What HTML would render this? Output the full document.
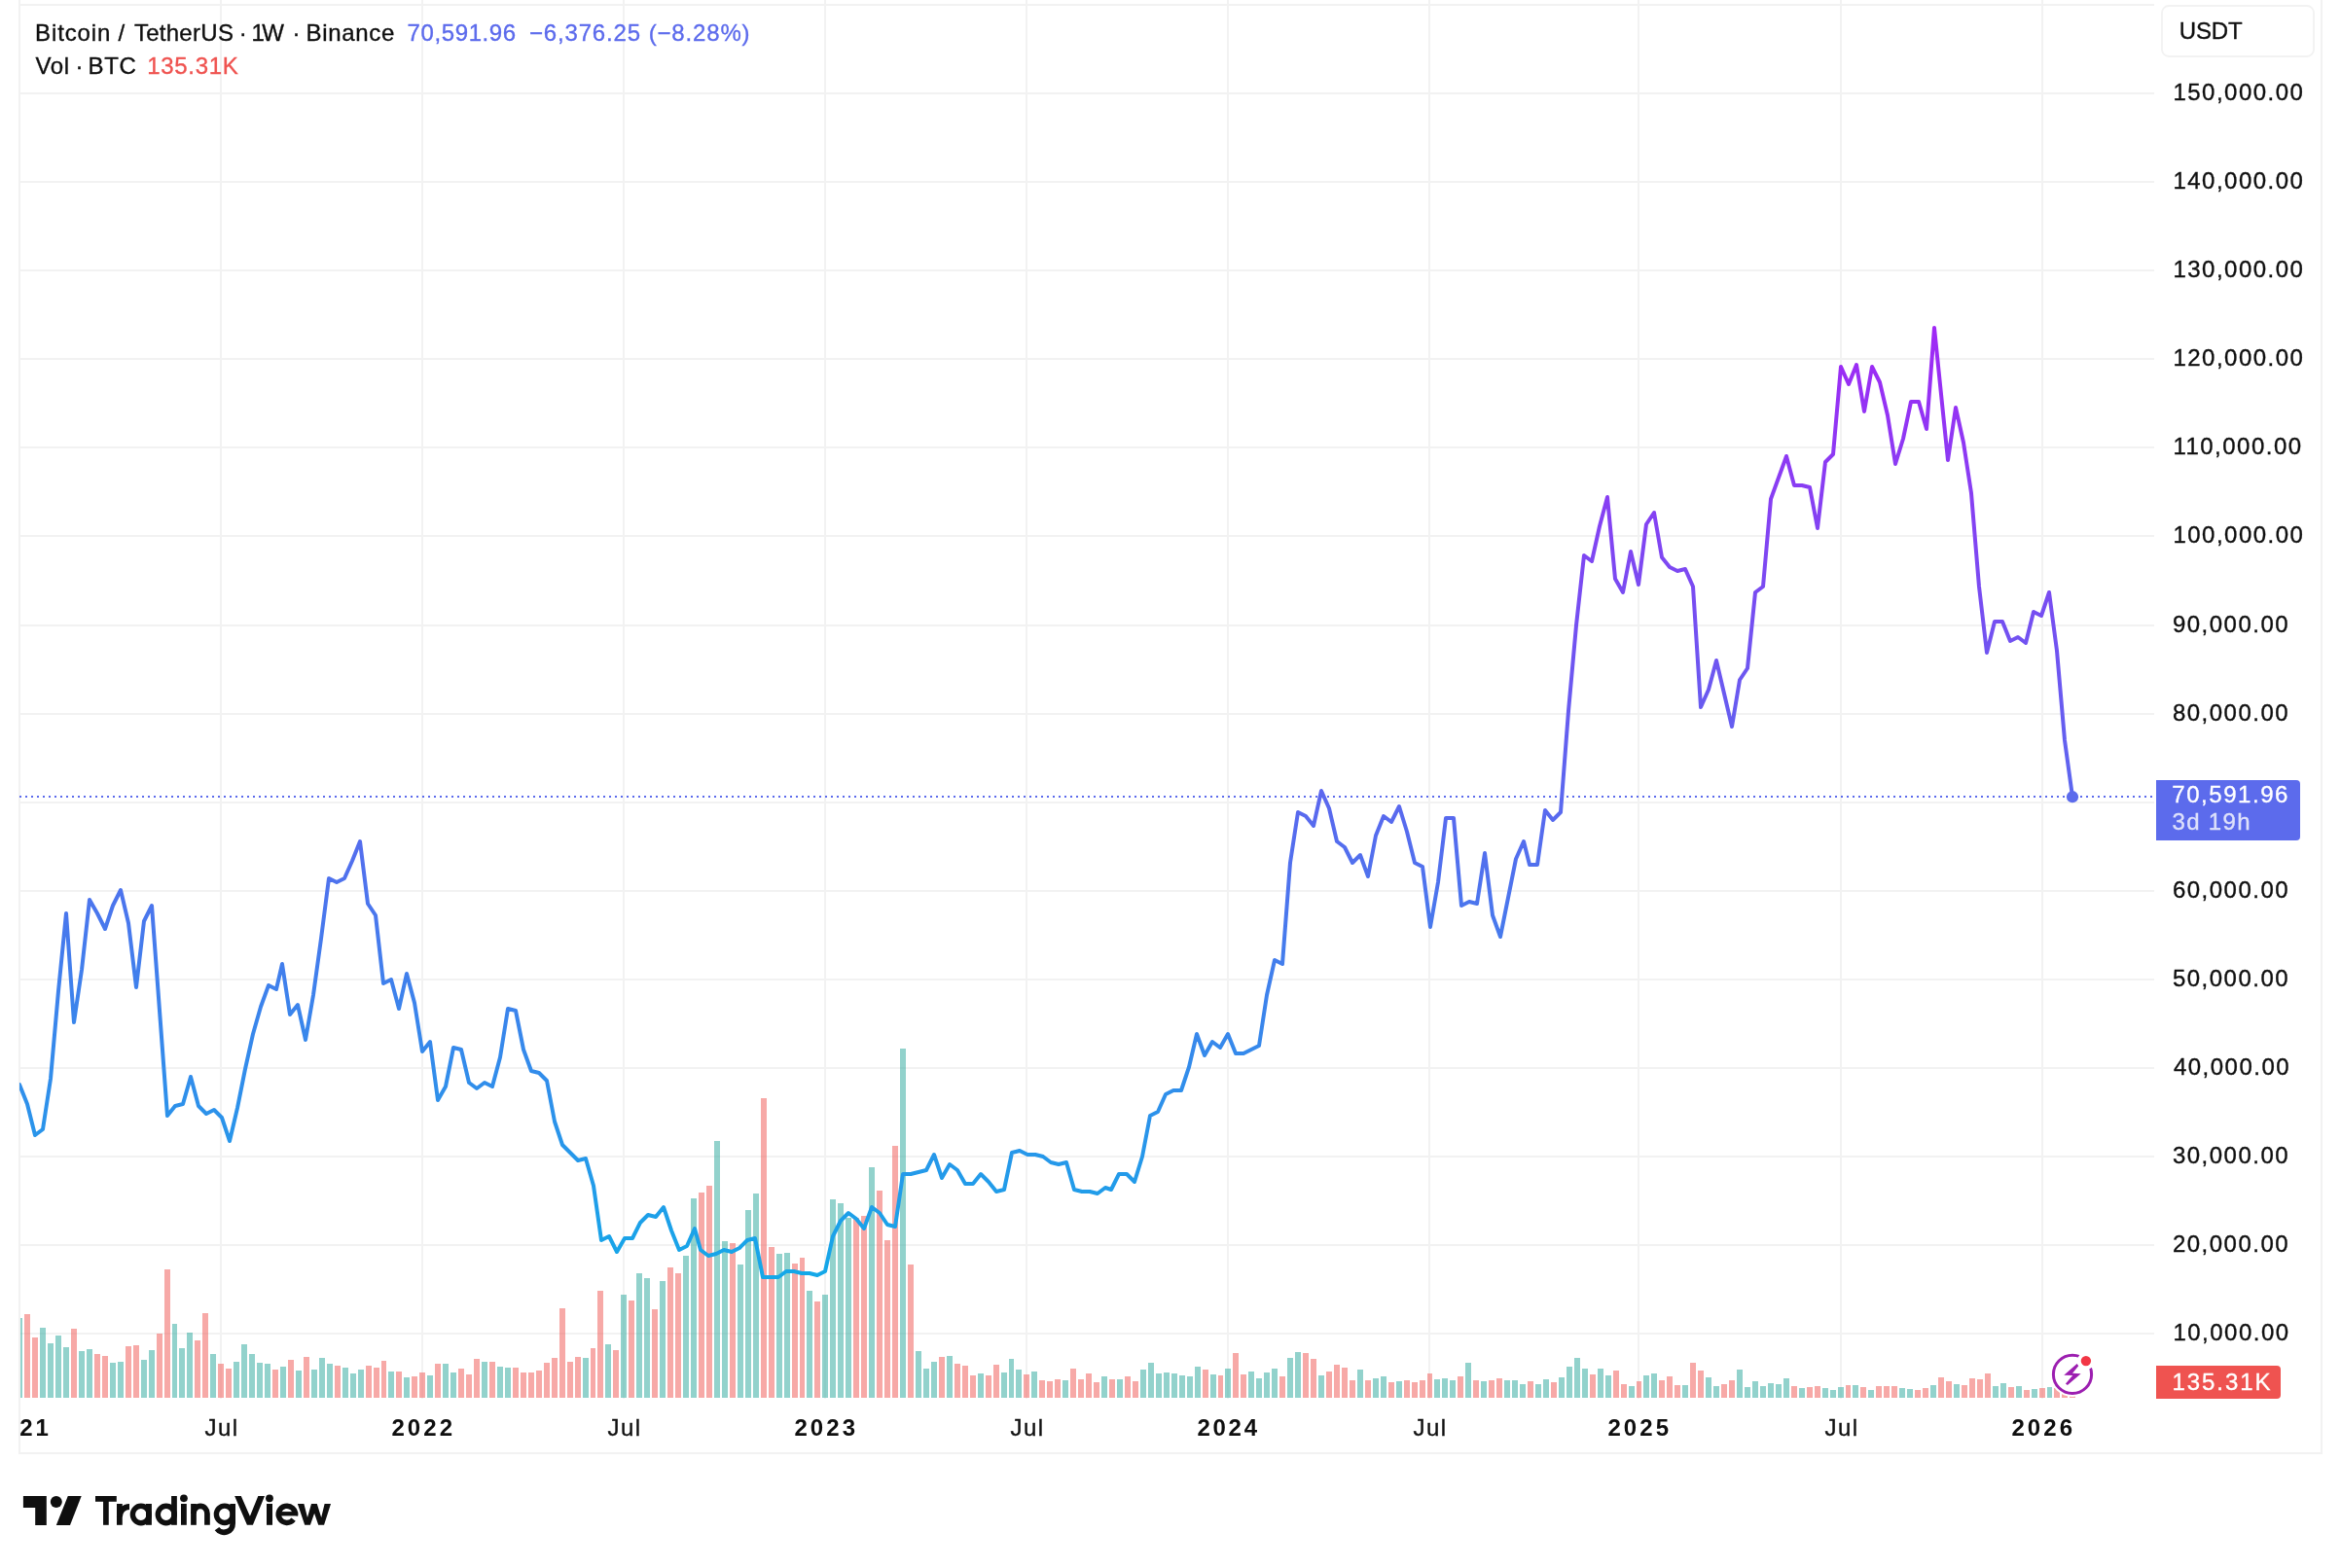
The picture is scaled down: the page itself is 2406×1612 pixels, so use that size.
<!DOCTYPE html><html><head><meta charset="utf-8"><title>BTCUSDT</title>
<style>html,body{margin:0;padding:0;background:#fff;}body{width:2406px;height:1612px;overflow:hidden;position:relative;font-family:"Liberation Sans",sans-serif;}svg{position:absolute;left:0;top:0;will-change:transform;}text{font-family:"Liberation Sans",sans-serif;}</style></head><body>
<svg width="2406" height="1612" viewBox="0 0 2406 1612">
<defs><linearGradient id="lg" gradientUnits="userSpaceOnUse" x1="0" y1="337" x2="0" y2="1314"><stop offset="0" stop-color="#a028f5"/><stop offset="1" stop-color="#14a8e8"/></linearGradient>
<clipPath id="plot"><rect x="20" y="0" width="2194" height="1493"/></clipPath></defs>
<g shape-rendering="crispEdges" fill="#f2f2f2">
<rect x="226" y="0" width="2" height="1438"/>
<rect x="433" y="0" width="2" height="1438"/>
<rect x="640" y="0" width="2" height="1438"/>
<rect x="847" y="0" width="2" height="1438"/>
<rect x="1054" y="0" width="2" height="1438"/>
<rect x="1261" y="0" width="2" height="1438"/>
<rect x="1468" y="0" width="2" height="1438"/>
<rect x="1683" y="0" width="2" height="1438"/>
<rect x="1891" y="0" width="2" height="1438"/>
<rect x="2098" y="0" width="2" height="1438"/>
<rect x="20" y="4" width="2194" height="2"/>
<rect x="20" y="95" width="2194" height="2"/>
<rect x="20" y="186" width="2194" height="2"/>
<rect x="20" y="277" width="2194" height="2"/>
<rect x="20" y="368" width="2194" height="2"/>
<rect x="20" y="459" width="2194" height="2"/>
<rect x="20" y="550" width="2194" height="2"/>
<rect x="20" y="642" width="2194" height="2"/>
<rect x="20" y="733" width="2194" height="2"/>
<rect x="20" y="824" width="2194" height="2"/>
<rect x="20" y="915" width="2194" height="2"/>
<rect x="20" y="1006" width="2194" height="2"/>
<rect x="20" y="1097" width="2194" height="2"/>
<rect x="20" y="1188" width="2194" height="2"/>
<rect x="20" y="1279" width="2194" height="2"/>
<rect x="20" y="1370" width="2194" height="2"/>
</g>
<g shape-rendering="crispEdges" clip-path="url(#plot)">
<rect x="17" y="1355" width="6" height="82" fill="rgba(38,166,154,0.5)"/>
<rect x="25" y="1351" width="6" height="86" fill="rgba(239,83,80,0.5)"/>
<rect x="33" y="1375" width="6" height="62" fill="rgba(239,83,80,0.5)"/>
<rect x="41" y="1365" width="6" height="72" fill="rgba(38,166,154,0.5)"/>
<rect x="49" y="1381" width="6" height="56" fill="rgba(38,166,154,0.5)"/>
<rect x="57" y="1373" width="6" height="64" fill="rgba(38,166,154,0.5)"/>
<rect x="65" y="1385" width="6" height="52" fill="rgba(38,166,154,0.5)"/>
<rect x="73" y="1366" width="6" height="71" fill="rgba(239,83,80,0.5)"/>
<rect x="81" y="1389" width="6" height="48" fill="rgba(38,166,154,0.5)"/>
<rect x="89" y="1387" width="6" height="50" fill="rgba(38,166,154,0.5)"/>
<rect x="97" y="1392" width="6" height="45" fill="rgba(239,83,80,0.5)"/>
<rect x="105" y="1394" width="6" height="43" fill="rgba(239,83,80,0.5)"/>
<rect x="113" y="1401" width="6" height="36" fill="rgba(38,166,154,0.5)"/>
<rect x="121" y="1400" width="6" height="37" fill="rgba(38,166,154,0.5)"/>
<rect x="129" y="1384" width="6" height="53" fill="rgba(239,83,80,0.5)"/>
<rect x="137" y="1383" width="6" height="54" fill="rgba(239,83,80,0.5)"/>
<rect x="145" y="1398" width="6" height="39" fill="rgba(38,166,154,0.5)"/>
<rect x="153" y="1388" width="6" height="49" fill="rgba(38,166,154,0.5)"/>
<rect x="161" y="1371" width="6" height="66" fill="rgba(239,83,80,0.5)"/>
<rect x="169" y="1305" width="6" height="132" fill="rgba(239,83,80,0.5)"/>
<rect x="177" y="1361" width="5" height="76" fill="rgba(38,166,154,0.5)"/>
<rect x="184" y="1386" width="6" height="51" fill="rgba(38,166,154,0.5)"/>
<rect x="192" y="1370" width="6" height="67" fill="rgba(38,166,154,0.5)"/>
<rect x="200" y="1378" width="6" height="59" fill="rgba(239,83,80,0.5)"/>
<rect x="208" y="1350" width="6" height="87" fill="rgba(239,83,80,0.5)"/>
<rect x="216" y="1392" width="6" height="45" fill="rgba(38,166,154,0.5)"/>
<rect x="224" y="1402" width="6" height="35" fill="rgba(239,83,80,0.5)"/>
<rect x="232" y="1407" width="6" height="30" fill="rgba(239,83,80,0.5)"/>
<rect x="240" y="1400" width="6" height="37" fill="rgba(38,166,154,0.5)"/>
<rect x="248" y="1382" width="6" height="55" fill="rgba(38,166,154,0.5)"/>
<rect x="256" y="1392" width="6" height="45" fill="rgba(38,166,154,0.5)"/>
<rect x="264" y="1401" width="6" height="36" fill="rgba(38,166,154,0.5)"/>
<rect x="272" y="1402" width="6" height="35" fill="rgba(38,166,154,0.5)"/>
<rect x="280" y="1408" width="6" height="29" fill="rgba(239,83,80,0.5)"/>
<rect x="288" y="1405" width="6" height="32" fill="rgba(38,166,154,0.5)"/>
<rect x="296" y="1398" width="6" height="39" fill="rgba(239,83,80,0.5)"/>
<rect x="304" y="1409" width="6" height="28" fill="rgba(38,166,154,0.5)"/>
<rect x="312" y="1395" width="6" height="42" fill="rgba(239,83,80,0.5)"/>
<rect x="320" y="1408" width="6" height="29" fill="rgba(38,166,154,0.5)"/>
<rect x="328" y="1396" width="6" height="41" fill="rgba(38,166,154,0.5)"/>
<rect x="336" y="1402" width="6" height="35" fill="rgba(38,166,154,0.5)"/>
<rect x="344" y="1404" width="6" height="33" fill="rgba(239,83,80,0.5)"/>
<rect x="352" y="1406" width="6" height="31" fill="rgba(38,166,154,0.5)"/>
<rect x="360" y="1412" width="6" height="25" fill="rgba(38,166,154,0.5)"/>
<rect x="368" y="1408" width="6" height="29" fill="rgba(38,166,154,0.5)"/>
<rect x="376" y="1404" width="6" height="33" fill="rgba(239,83,80,0.5)"/>
<rect x="384" y="1406" width="6" height="31" fill="rgba(239,83,80,0.5)"/>
<rect x="392" y="1399" width="5" height="38" fill="rgba(239,83,80,0.5)"/>
<rect x="399" y="1410" width="6" height="27" fill="rgba(38,166,154,0.5)"/>
<rect x="407" y="1410" width="6" height="27" fill="rgba(239,83,80,0.5)"/>
<rect x="415" y="1416" width="6" height="21" fill="rgba(38,166,154,0.5)"/>
<rect x="423" y="1415" width="6" height="22" fill="rgba(239,83,80,0.5)"/>
<rect x="431" y="1411" width="6" height="26" fill="rgba(239,83,80,0.5)"/>
<rect x="439" y="1414" width="6" height="23" fill="rgba(38,166,154,0.5)"/>
<rect x="447" y="1402" width="6" height="35" fill="rgba(239,83,80,0.5)"/>
<rect x="455" y="1402" width="6" height="35" fill="rgba(38,166,154,0.5)"/>
<rect x="463" y="1411" width="6" height="26" fill="rgba(38,166,154,0.5)"/>
<rect x="471" y="1407" width="6" height="30" fill="rgba(239,83,80,0.5)"/>
<rect x="479" y="1413" width="6" height="24" fill="rgba(239,83,80,0.5)"/>
<rect x="487" y="1397" width="6" height="40" fill="rgba(239,83,80,0.5)"/>
<rect x="495" y="1400" width="6" height="37" fill="rgba(38,166,154,0.5)"/>
<rect x="503" y="1400" width="6" height="37" fill="rgba(239,83,80,0.5)"/>
<rect x="511" y="1405" width="6" height="32" fill="rgba(38,166,154,0.5)"/>
<rect x="519" y="1406" width="6" height="31" fill="rgba(38,166,154,0.5)"/>
<rect x="527" y="1406" width="6" height="31" fill="rgba(239,83,80,0.5)"/>
<rect x="535" y="1411" width="6" height="26" fill="rgba(239,83,80,0.5)"/>
<rect x="543" y="1411" width="6" height="26" fill="rgba(239,83,80,0.5)"/>
<rect x="551" y="1409" width="6" height="28" fill="rgba(239,83,80,0.5)"/>
<rect x="559" y="1401" width="6" height="36" fill="rgba(239,83,80,0.5)"/>
<rect x="567" y="1396" width="6" height="41" fill="rgba(239,83,80,0.5)"/>
<rect x="575" y="1345" width="6" height="92" fill="rgba(239,83,80,0.5)"/>
<rect x="583" y="1400" width="6" height="37" fill="rgba(239,83,80,0.5)"/>
<rect x="591" y="1395" width="6" height="42" fill="rgba(239,83,80,0.5)"/>
<rect x="599" y="1396" width="6" height="41" fill="rgba(38,166,154,0.5)"/>
<rect x="607" y="1386" width="5" height="51" fill="rgba(239,83,80,0.5)"/>
<rect x="614" y="1327" width="6" height="110" fill="rgba(239,83,80,0.5)"/>
<rect x="622" y="1382" width="6" height="55" fill="rgba(38,166,154,0.5)"/>
<rect x="630" y="1388" width="6" height="49" fill="rgba(239,83,80,0.5)"/>
<rect x="638" y="1331" width="6" height="106" fill="rgba(38,166,154,0.5)"/>
<rect x="646" y="1337" width="6" height="100" fill="rgba(239,83,80,0.5)"/>
<rect x="654" y="1309" width="6" height="128" fill="rgba(38,166,154,0.5)"/>
<rect x="662" y="1314" width="6" height="123" fill="rgba(38,166,154,0.5)"/>
<rect x="670" y="1346" width="6" height="91" fill="rgba(239,83,80,0.5)"/>
<rect x="678" y="1317" width="6" height="120" fill="rgba(38,166,154,0.5)"/>
<rect x="686" y="1303" width="6" height="134" fill="rgba(239,83,80,0.5)"/>
<rect x="694" y="1309" width="6" height="128" fill="rgba(239,83,80,0.5)"/>
<rect x="702" y="1291" width="6" height="146" fill="rgba(38,166,154,0.5)"/>
<rect x="710" y="1232" width="6" height="205" fill="rgba(38,166,154,0.5)"/>
<rect x="718" y="1226" width="6" height="211" fill="rgba(239,83,80,0.5)"/>
<rect x="726" y="1219" width="6" height="218" fill="rgba(239,83,80,0.5)"/>
<rect x="734" y="1173" width="6" height="264" fill="rgba(38,166,154,0.5)"/>
<rect x="742" y="1276" width="6" height="161" fill="rgba(38,166,154,0.5)"/>
<rect x="750" y="1278" width="6" height="159" fill="rgba(239,83,80,0.5)"/>
<rect x="758" y="1300" width="6" height="137" fill="rgba(38,166,154,0.5)"/>
<rect x="766" y="1244" width="6" height="193" fill="rgba(38,166,154,0.5)"/>
<rect x="774" y="1227" width="6" height="210" fill="rgba(38,166,154,0.5)"/>
<rect x="782" y="1129" width="6" height="308" fill="rgba(239,83,80,0.5)"/>
<rect x="790" y="1282" width="6" height="155" fill="rgba(239,83,80,0.5)"/>
<rect x="798" y="1289" width="6" height="148" fill="rgba(38,166,154,0.5)"/>
<rect x="806" y="1288" width="6" height="149" fill="rgba(38,166,154,0.5)"/>
<rect x="814" y="1299" width="6" height="138" fill="rgba(239,83,80,0.5)"/>
<rect x="822" y="1293" width="5" height="144" fill="rgba(239,83,80,0.5)"/>
<rect x="829" y="1327" width="6" height="110" fill="rgba(38,166,154,0.5)"/>
<rect x="837" y="1338" width="6" height="99" fill="rgba(239,83,80,0.5)"/>
<rect x="845" y="1331" width="6" height="106" fill="rgba(38,166,154,0.5)"/>
<rect x="853" y="1233" width="6" height="204" fill="rgba(38,166,154,0.5)"/>
<rect x="861" y="1237" width="6" height="200" fill="rgba(38,166,154,0.5)"/>
<rect x="869" y="1252" width="6" height="185" fill="rgba(38,166,154,0.5)"/>
<rect x="877" y="1252" width="6" height="185" fill="rgba(239,83,80,0.5)"/>
<rect x="885" y="1250" width="6" height="187" fill="rgba(239,83,80,0.5)"/>
<rect x="893" y="1200" width="6" height="237" fill="rgba(38,166,154,0.5)"/>
<rect x="901" y="1224" width="6" height="213" fill="rgba(239,83,80,0.5)"/>
<rect x="909" y="1275" width="6" height="162" fill="rgba(239,83,80,0.5)"/>
<rect x="917" y="1178" width="6" height="259" fill="rgba(239,83,80,0.5)"/>
<rect x="925" y="1078" width="6" height="359" fill="rgba(38,166,154,0.5)"/>
<rect x="933" y="1300" width="6" height="137" fill="rgba(239,83,80,0.5)"/>
<rect x="941" y="1389" width="6" height="48" fill="rgba(38,166,154,0.5)"/>
<rect x="949" y="1407" width="6" height="30" fill="rgba(38,166,154,0.5)"/>
<rect x="957" y="1400" width="6" height="37" fill="rgba(38,166,154,0.5)"/>
<rect x="965" y="1395" width="6" height="42" fill="rgba(239,83,80,0.5)"/>
<rect x="973" y="1394" width="6" height="43" fill="rgba(38,166,154,0.5)"/>
<rect x="981" y="1402" width="6" height="35" fill="rgba(239,83,80,0.5)"/>
<rect x="989" y="1404" width="6" height="33" fill="rgba(239,83,80,0.5)"/>
<rect x="997" y="1414" width="6" height="23" fill="rgba(239,83,80,0.5)"/>
<rect x="1005" y="1412" width="6" height="25" fill="rgba(38,166,154,0.5)"/>
<rect x="1013" y="1414" width="6" height="23" fill="rgba(239,83,80,0.5)"/>
<rect x="1021" y="1403" width="6" height="34" fill="rgba(239,83,80,0.5)"/>
<rect x="1029" y="1411" width="6" height="26" fill="rgba(38,166,154,0.5)"/>
<rect x="1037" y="1397" width="5" height="40" fill="rgba(38,166,154,0.5)"/>
<rect x="1044" y="1408" width="6" height="29" fill="rgba(38,166,154,0.5)"/>
<rect x="1052" y="1413" width="6" height="24" fill="rgba(239,83,80,0.5)"/>
<rect x="1060" y="1410" width="6" height="27" fill="rgba(38,166,154,0.5)"/>
<rect x="1068" y="1419" width="6" height="18" fill="rgba(239,83,80,0.5)"/>
<rect x="1076" y="1420" width="6" height="17" fill="rgba(239,83,80,0.5)"/>
<rect x="1084" y="1418" width="6" height="19" fill="rgba(239,83,80,0.5)"/>
<rect x="1092" y="1419" width="6" height="18" fill="rgba(38,166,154,0.5)"/>
<rect x="1100" y="1407" width="6" height="30" fill="rgba(239,83,80,0.5)"/>
<rect x="1108" y="1418" width="6" height="19" fill="rgba(239,83,80,0.5)"/>
<rect x="1116" y="1412" width="6" height="25" fill="rgba(239,83,80,0.5)"/>
<rect x="1124" y="1421" width="6" height="16" fill="rgba(239,83,80,0.5)"/>
<rect x="1132" y="1415" width="6" height="22" fill="rgba(38,166,154,0.5)"/>
<rect x="1140" y="1418" width="6" height="19" fill="rgba(239,83,80,0.5)"/>
<rect x="1148" y="1418" width="6" height="19" fill="rgba(38,166,154,0.5)"/>
<rect x="1156" y="1415" width="6" height="22" fill="rgba(239,83,80,0.5)"/>
<rect x="1164" y="1420" width="6" height="17" fill="rgba(239,83,80,0.5)"/>
<rect x="1172" y="1408" width="6" height="29" fill="rgba(38,166,154,0.5)"/>
<rect x="1180" y="1401" width="6" height="36" fill="rgba(38,166,154,0.5)"/>
<rect x="1188" y="1412" width="6" height="25" fill="rgba(38,166,154,0.5)"/>
<rect x="1196" y="1411" width="6" height="26" fill="rgba(38,166,154,0.5)"/>
<rect x="1204" y="1412" width="6" height="25" fill="rgba(38,166,154,0.5)"/>
<rect x="1212" y="1414" width="6" height="23" fill="rgba(38,166,154,0.5)"/>
<rect x="1220" y="1415" width="6" height="22" fill="rgba(38,166,154,0.5)"/>
<rect x="1228" y="1405" width="6" height="32" fill="rgba(38,166,154,0.5)"/>
<rect x="1236" y="1408" width="6" height="29" fill="rgba(239,83,80,0.5)"/>
<rect x="1244" y="1413" width="6" height="24" fill="rgba(38,166,154,0.5)"/>
<rect x="1252" y="1414" width="5" height="23" fill="rgba(239,83,80,0.5)"/>
<rect x="1259" y="1407" width="6" height="30" fill="rgba(38,166,154,0.5)"/>
<rect x="1267" y="1391" width="6" height="46" fill="rgba(239,83,80,0.5)"/>
<rect x="1275" y="1413" width="6" height="24" fill="rgba(239,83,80,0.5)"/>
<rect x="1283" y="1410" width="6" height="27" fill="rgba(38,166,154,0.5)"/>
<rect x="1291" y="1417" width="6" height="20" fill="rgba(38,166,154,0.5)"/>
<rect x="1299" y="1411" width="6" height="26" fill="rgba(38,166,154,0.5)"/>
<rect x="1307" y="1407" width="6" height="30" fill="rgba(38,166,154,0.5)"/>
<rect x="1315" y="1415" width="6" height="22" fill="rgba(239,83,80,0.5)"/>
<rect x="1323" y="1396" width="6" height="41" fill="rgba(38,166,154,0.5)"/>
<rect x="1331" y="1390" width="6" height="47" fill="rgba(38,166,154,0.5)"/>
<rect x="1339" y="1391" width="6" height="46" fill="rgba(239,83,80,0.5)"/>
<rect x="1347" y="1397" width="6" height="40" fill="rgba(239,83,80,0.5)"/>
<rect x="1355" y="1414" width="6" height="23" fill="rgba(38,166,154,0.5)"/>
<rect x="1363" y="1410" width="6" height="27" fill="rgba(239,83,80,0.5)"/>
<rect x="1371" y="1403" width="6" height="34" fill="rgba(239,83,80,0.5)"/>
<rect x="1379" y="1406" width="6" height="31" fill="rgba(239,83,80,0.5)"/>
<rect x="1387" y="1419" width="6" height="18" fill="rgba(239,83,80,0.5)"/>
<rect x="1395" y="1408" width="6" height="29" fill="rgba(38,166,154,0.5)"/>
<rect x="1403" y="1419" width="6" height="18" fill="rgba(239,83,80,0.5)"/>
<rect x="1411" y="1417" width="6" height="20" fill="rgba(38,166,154,0.5)"/>
<rect x="1419" y="1415" width="6" height="22" fill="rgba(38,166,154,0.5)"/>
<rect x="1427" y="1421" width="6" height="16" fill="rgba(239,83,80,0.5)"/>
<rect x="1435" y="1420" width="6" height="17" fill="rgba(38,166,154,0.5)"/>
<rect x="1443" y="1419" width="6" height="18" fill="rgba(239,83,80,0.5)"/>
<rect x="1451" y="1421" width="6" height="16" fill="rgba(239,83,80,0.5)"/>
<rect x="1459" y="1419" width="6" height="18" fill="rgba(239,83,80,0.5)"/>
<rect x="1467" y="1412" width="5" height="25" fill="rgba(239,83,80,0.5)"/>
<rect x="1474" y="1418" width="6" height="19" fill="rgba(38,166,154,0.5)"/>
<rect x="1482" y="1417" width="6" height="20" fill="rgba(38,166,154,0.5)"/>
<rect x="1490" y="1419" width="6" height="18" fill="rgba(38,166,154,0.5)"/>
<rect x="1498" y="1415" width="6" height="22" fill="rgba(239,83,80,0.5)"/>
<rect x="1506" y="1401" width="6" height="36" fill="rgba(38,166,154,0.5)"/>
<rect x="1514" y="1419" width="6" height="18" fill="rgba(239,83,80,0.5)"/>
<rect x="1522" y="1420" width="6" height="17" fill="rgba(38,166,154,0.5)"/>
<rect x="1530" y="1419" width="6" height="18" fill="rgba(239,83,80,0.5)"/>
<rect x="1538" y="1417" width="6" height="20" fill="rgba(239,83,80,0.5)"/>
<rect x="1546" y="1419" width="6" height="18" fill="rgba(38,166,154,0.5)"/>
<rect x="1554" y="1419" width="6" height="18" fill="rgba(38,166,154,0.5)"/>
<rect x="1562" y="1423" width="6" height="14" fill="rgba(38,166,154,0.5)"/>
<rect x="1570" y="1420" width="6" height="17" fill="rgba(239,83,80,0.5)"/>
<rect x="1578" y="1423" width="6" height="14" fill="rgba(38,166,154,0.5)"/>
<rect x="1586" y="1418" width="6" height="19" fill="rgba(38,166,154,0.5)"/>
<rect x="1594" y="1421" width="6" height="16" fill="rgba(239,83,80,0.5)"/>
<rect x="1602" y="1416" width="6" height="21" fill="rgba(38,166,154,0.5)"/>
<rect x="1610" y="1405" width="6" height="32" fill="rgba(38,166,154,0.5)"/>
<rect x="1618" y="1396" width="6" height="41" fill="rgba(38,166,154,0.5)"/>
<rect x="1626" y="1407" width="6" height="30" fill="rgba(38,166,154,0.5)"/>
<rect x="1634" y="1413" width="6" height="24" fill="rgba(239,83,80,0.5)"/>
<rect x="1642" y="1407" width="6" height="30" fill="rgba(38,166,154,0.5)"/>
<rect x="1650" y="1414" width="6" height="23" fill="rgba(38,166,154,0.5)"/>
<rect x="1658" y="1409" width="6" height="28" fill="rgba(239,83,80,0.5)"/>
<rect x="1666" y="1423" width="6" height="14" fill="rgba(239,83,80,0.5)"/>
<rect x="1674" y="1425" width="6" height="12" fill="rgba(38,166,154,0.5)"/>
<rect x="1682" y="1420" width="5" height="17" fill="rgba(239,83,80,0.5)"/>
<rect x="1689" y="1414" width="6" height="23" fill="rgba(38,166,154,0.5)"/>
<rect x="1697" y="1412" width="6" height="25" fill="rgba(38,166,154,0.5)"/>
<rect x="1705" y="1419" width="6" height="18" fill="rgba(239,83,80,0.5)"/>
<rect x="1713" y="1415" width="6" height="22" fill="rgba(239,83,80,0.5)"/>
<rect x="1721" y="1424" width="6" height="13" fill="rgba(239,83,80,0.5)"/>
<rect x="1729" y="1424" width="6" height="13" fill="rgba(38,166,154,0.5)"/>
<rect x="1737" y="1401" width="6" height="36" fill="rgba(239,83,80,0.5)"/>
<rect x="1745" y="1409" width="6" height="28" fill="rgba(239,83,80,0.5)"/>
<rect x="1753" y="1416" width="6" height="21" fill="rgba(38,166,154,0.5)"/>
<rect x="1761" y="1425" width="6" height="12" fill="rgba(38,166,154,0.5)"/>
<rect x="1769" y="1423" width="6" height="14" fill="rgba(239,83,80,0.5)"/>
<rect x="1777" y="1419" width="6" height="18" fill="rgba(239,83,80,0.5)"/>
<rect x="1785" y="1408" width="6" height="29" fill="rgba(38,166,154,0.5)"/>
<rect x="1793" y="1426" width="6" height="11" fill="rgba(38,166,154,0.5)"/>
<rect x="1801" y="1420" width="6" height="17" fill="rgba(38,166,154,0.5)"/>
<rect x="1809" y="1425" width="6" height="12" fill="rgba(38,166,154,0.5)"/>
<rect x="1817" y="1422" width="6" height="15" fill="rgba(38,166,154,0.5)"/>
<rect x="1825" y="1423" width="6" height="14" fill="rgba(38,166,154,0.5)"/>
<rect x="1833" y="1417" width="6" height="20" fill="rgba(38,166,154,0.5)"/>
<rect x="1841" y="1425" width="6" height="12" fill="rgba(239,83,80,0.5)"/>
<rect x="1849" y="1427" width="6" height="10" fill="rgba(38,166,154,0.5)"/>
<rect x="1857" y="1426" width="6" height="11" fill="rgba(239,83,80,0.5)"/>
<rect x="1865" y="1425" width="6" height="12" fill="rgba(239,83,80,0.5)"/>
<rect x="1873" y="1427" width="6" height="10" fill="rgba(38,166,154,0.5)"/>
<rect x="1881" y="1429" width="6" height="8" fill="rgba(38,166,154,0.5)"/>
<rect x="1889" y="1426" width="6" height="11" fill="rgba(38,166,154,0.5)"/>
<rect x="1897" y="1424" width="5" height="13" fill="rgba(239,83,80,0.5)"/>
<rect x="1904" y="1424" width="6" height="13" fill="rgba(38,166,154,0.5)"/>
<rect x="1912" y="1426" width="6" height="11" fill="rgba(239,83,80,0.5)"/>
<rect x="1920" y="1429" width="6" height="8" fill="rgba(38,166,154,0.5)"/>
<rect x="1928" y="1425" width="6" height="12" fill="rgba(239,83,80,0.5)"/>
<rect x="1936" y="1425" width="6" height="12" fill="rgba(239,83,80,0.5)"/>
<rect x="1944" y="1425" width="6" height="12" fill="rgba(239,83,80,0.5)"/>
<rect x="1952" y="1427" width="6" height="10" fill="rgba(38,166,154,0.5)"/>
<rect x="1960" y="1428" width="6" height="9" fill="rgba(38,166,154,0.5)"/>
<rect x="1968" y="1429" width="6" height="8" fill="rgba(239,83,80,0.5)"/>
<rect x="1976" y="1427" width="6" height="10" fill="rgba(239,83,80,0.5)"/>
<rect x="1984" y="1424" width="6" height="13" fill="rgba(38,166,154,0.5)"/>
<rect x="1992" y="1416" width="6" height="21" fill="rgba(239,83,80,0.5)"/>
<rect x="2000" y="1420" width="6" height="17" fill="rgba(239,83,80,0.5)"/>
<rect x="2008" y="1423" width="6" height="14" fill="rgba(38,166,154,0.5)"/>
<rect x="2016" y="1424" width="6" height="13" fill="rgba(239,83,80,0.5)"/>
<rect x="2024" y="1417" width="6" height="20" fill="rgba(239,83,80,0.5)"/>
<rect x="2032" y="1418" width="6" height="19" fill="rgba(239,83,80,0.5)"/>
<rect x="2040" y="1412" width="6" height="25" fill="rgba(239,83,80,0.5)"/>
<rect x="2048" y="1425" width="6" height="12" fill="rgba(38,166,154,0.5)"/>
<rect x="2056" y="1422" width="6" height="15" fill="rgba(38,166,154,0.5)"/>
<rect x="2064" y="1426" width="6" height="11" fill="rgba(239,83,80,0.5)"/>
<rect x="2072" y="1425" width="6" height="12" fill="rgba(38,166,154,0.5)"/>
<rect x="2080" y="1429" width="6" height="8" fill="rgba(239,83,80,0.5)"/>
<rect x="2088" y="1428" width="6" height="9" fill="rgba(38,166,154,0.5)"/>
<rect x="2096" y="1427" width="6" height="10" fill="rgba(239,83,80,0.5)"/>
<rect x="2104" y="1426" width="5" height="11" fill="rgba(38,166,154,0.5)"/>
<rect x="2111" y="1427" width="6" height="10" fill="rgba(239,83,80,0.5)"/>
<rect x="2119" y="1423" width="6" height="14" fill="rgba(239,83,80,0.5)"/>
<rect x="2127" y="1430" width="6" height="7" fill="rgba(239,83,80,0.5)"/>
</g>
<g shape-rendering="crispEdges" fill="#f2f2f2"><rect x="19" y="0" width="2" height="1495"/><rect x="19" y="1493" width="2368" height="2"/><rect x="2385" y="0" width="2" height="1495"/></g>
<line x1="20" y1="819" x2="2214" y2="819" stroke="#5c6bec" stroke-width="2" stroke-dasharray="2 4" shape-rendering="crispEdges"/>
<polyline clip-path="url(#plot)" points="20,1115 28,1135 36,1167 44,1161 52,1109 60,1019 68,939 76,1051 84,997 92,925 100,939 108,955 116,931 124,915 132,949 140,1015 148,947 156,931 164,1039 172,1147 180,1137 188,1135 196,1107 204,1137 212,1145 220,1141 228,1149 236,1173 244,1139 252,1099 260,1063 268,1035 276,1013 284,1017 290,991 298,1043 306,1033 314,1069 322,1023 330,965 338,903 346,907 354,903 362,885 370,865 378,929 386,941 394,1011 402,1007 410,1037 418,1001 426,1031 434,1081 442,1071 450,1131 458,1117 466,1077 474,1079 482,1113 490,1119 498,1113 506,1117 514,1087 522,1037 530,1039 538,1079 546,1101 554,1103 562,1111 570,1153 578,1177 586,1185 594,1193 602,1191 610,1219 618,1275 626,1271 634,1287 642,1273 650,1273 658,1257 666,1249 674,1251 682,1241 690,1265 698,1285 706,1281 714,1263 720,1285 728,1291 736,1289 744,1285 752,1287 760,1283 768,1275 776,1273 784,1313 792,1313 800,1313 808,1307 816,1307 824,1309 832,1309 840,1311 848,1307 856,1271 864,1255 872,1247 880,1253 888,1263 896,1241 904,1247 912,1259 920,1261 928,1207 936,1207 944,1205 952,1203 960,1187 968,1211 976,1197 984,1203 992,1217 1000,1217 1008,1207 1016,1215 1024,1225 1032,1223 1040,1185 1048,1183 1056,1187 1064,1187 1072,1189 1080,1195 1088,1197 1096,1195 1104,1223 1112,1225 1120,1225 1128,1227 1136,1221 1142,1223 1150,1207 1158,1207 1166,1215 1174,1189 1182,1147 1190,1143 1198,1125 1206,1121 1214,1121 1222,1097 1230,1063 1238,1085 1246,1071 1254,1077 1262,1063 1270,1083 1278,1083 1286,1079 1294,1075 1302,1023 1310,987 1318,991 1326,887 1334,835 1342,839 1350,849 1358,813 1366,831 1374,865 1382,871 1390,887 1398,879 1406,901 1414,859 1422,839 1430,845 1438,829 1446,855 1454,887 1462,891 1470,953 1478,907 1486,841 1494,841 1502,931 1510,927 1518,929 1526,877 1534,941 1542,963 1550,923 1558,883 1566,865 1572,889 1580,889 1588,833 1596,843 1604,835 1612,731 1620,643 1628,571 1636,577 1644,541 1652,511 1660,595 1668,609 1676,567 1684,601 1692,539 1700,527 1708,573 1716,583 1724,587 1732,585 1740,603 1748,727 1756,709 1764,679 1772,713 1780,747 1788,699 1796,687 1804,609 1812,603 1820,513 1828,491 1836,469 1844,499 1852,499 1860,501 1868,543 1876,475 1884,467 1892,377 1900,395 1908,375 1916,423 1924,377 1932,393 1940,427 1948,477 1956,451 1964,413 1972,413 1980,441 1988,337 1996,415 2002,473 2010,419 2018,455 2026,507 2034,603 2042,671 2050,639 2058,639 2066,659 2074,655 2082,661 2090,629 2098,633 2106,609 2114,669 2122,761 2130,819" fill="none" stroke="url(#lg)" stroke-width="4" stroke-linejoin="round" stroke-linecap="round"/>
<circle cx="2130" cy="819.2" r="6.1" fill="#5c6bec"/>
<circle cx="2130.0" cy="1412.9" r="23" fill="#fff"/>
<mask id="m"><rect x="2090" y="1370" width="80" height="80" fill="#fff"/><circle cx="2143.9" cy="1399.1" r="9" fill="#000"/></mask>
<circle cx="2130.0" cy="1412.9" r="19.6" fill="none" stroke="#9c1fb0" stroke-width="3" mask="url(#m)"/>
<circle cx="2143.9" cy="1399.1" r="5.2" fill="#f23645"/>
<polygon fill="#9c1fb0" points="2121.24,1413.66 2134.63,1401.99 2136.24,1404.17 2130.04,1411.75 2138.65,1412.13 2124.88,1423.99 2122.96,1422.46 2130.23,1414.04"/>
<path d="M2216 802H2360a4 4 0 0 1 4 4V860a4 4 0 0 1 -4 4H2216Z" fill="#5c6bec"/>
<path d="M2216 1404H2340a4 4 0 0 1 4 4V1434a4 4 0 0 1 -4 4H2216Z" fill="#ef5350"/>
<rect x="2222" y="6" width="156" height="52" rx="7" fill="#fff" stroke="#f2f2f2" stroke-width="1.8"/>
<text x="2233.40" y="103.30" font-size="24" fill="#0f0f0f" stroke="#0f0f0f" stroke-width="0.35" letter-spacing="1.49">150,000.00</text>
<text x="2233.40" y="194.30" font-size="24" fill="#0f0f0f" stroke="#0f0f0f" stroke-width="0.35" letter-spacing="1.49">140,000.00</text>
<text x="2233.40" y="285.30" font-size="24" fill="#0f0f0f" stroke="#0f0f0f" stroke-width="0.35" letter-spacing="1.49">130,000.00</text>
<text x="2233.40" y="376.30" font-size="24" fill="#0f0f0f" stroke="#0f0f0f" stroke-width="0.35" letter-spacing="1.49">120,000.00</text>
<text x="2233.40" y="467.30" font-size="24" fill="#0f0f0f" stroke="#0f0f0f" stroke-width="0.35" letter-spacing="1.49">110,000.00</text>
<text x="2233.40" y="558.30" font-size="24" fill="#0f0f0f" stroke="#0f0f0f" stroke-width="0.35" letter-spacing="1.49">100,000.00</text>
<text x="2232.90" y="650.30" font-size="24" fill="#0f0f0f" stroke="#0f0f0f" stroke-width="0.35" letter-spacing="1.49">90,000.00</text>
<text x="2232.90" y="741.30" font-size="24" fill="#0f0f0f" stroke="#0f0f0f" stroke-width="0.35" letter-spacing="1.49">80,000.00</text>
<text x="2232.90" y="923.30" font-size="24" fill="#0f0f0f" stroke="#0f0f0f" stroke-width="0.35" letter-spacing="1.49">60,000.00</text>
<text x="2232.90" y="1014.30" font-size="24" fill="#0f0f0f" stroke="#0f0f0f" stroke-width="0.35" letter-spacing="1.49">50,000.00</text>
<text x="2233.90" y="1105.30" font-size="24" fill="#0f0f0f" stroke="#0f0f0f" stroke-width="0.35" letter-spacing="1.49">40,000.00</text>
<text x="2232.90" y="1196.30" font-size="24" fill="#0f0f0f" stroke="#0f0f0f" stroke-width="0.35" letter-spacing="1.49">30,000.00</text>
<text x="2232.90" y="1287.30" font-size="24" fill="#0f0f0f" stroke="#0f0f0f" stroke-width="0.35" letter-spacing="1.49">20,000.00</text>
<text x="2233.40" y="1378.30" font-size="24" fill="#0f0f0f" stroke="#0f0f0f" stroke-width="0.35" letter-spacing="1.49">10,000.00</text>
<text x="2239.70" y="40.00" font-size="24" fill="#0f0f0f" stroke="#0f0f0f" stroke-width="0.35" font-weight="normal" letter-spacing="-0.13">USDT</text>
<text x="2232.30" y="825.10" font-size="24" fill="#fff" stroke="#fff" stroke-width="0.35" font-weight="normal" letter-spacing="1.55">70,591.96</text>
<text x="2232.50" y="853.00" font-size="24" fill="#dee1fb" stroke="#dee1fb" stroke-width="0.35" font-weight="normal" letter-spacing="1.32">3d 19h</text>
<text x="2232.60" y="1429.30" font-size="24" fill="#fff" stroke="#fff" stroke-width="0.35" font-weight="normal" letter-spacing="1.90">135.31K</text>
<text x="36.00" y="41.80" font-size="24" fill="#0f0f0f" stroke="#0f0f0f" stroke-width="0.35" font-weight="normal" letter-spacing="0.90">Bitcoin</text>
<text x="121.60" y="41.80" font-size="24" fill="#0f0f0f" stroke="#0f0f0f" stroke-width="0.35" font-weight="normal" letter-spacing="0.00">/</text>
<text x="137.90" y="41.80" font-size="24" fill="#0f0f0f" stroke="#0f0f0f" stroke-width="0.35" font-weight="normal" letter-spacing="0.28">TetherUS</text>
<text x="245.80" y="41.80" font-size="24" fill="#0f0f0f" stroke="#0f0f0f" stroke-width="0.35" font-weight="normal" letter-spacing="0.00">·</text>
<text x="258.60" y="41.80" font-size="24" fill="#0f0f0f" stroke="#0f0f0f" stroke-width="0.35" font-weight="normal" letter-spacing="-2.80">1W</text>
<text x="300.50" y="41.80" font-size="24" fill="#0f0f0f" stroke="#0f0f0f" stroke-width="0.35" font-weight="normal" letter-spacing="0.00">·</text>
<text x="314.50" y="41.80" font-size="24" fill="#0f0f0f" stroke="#0f0f0f" stroke-width="0.35" font-weight="normal" letter-spacing="0.67">Binance</text>
<text x="418.60" y="41.80" font-size="24" fill="#5c6bec" stroke="#5c6bec" stroke-width="0.35" font-weight="normal" letter-spacing="0.60">70,591.96</text>
<text x="543.90" y="41.80" font-size="24" fill="#5c6bec" stroke="#5c6bec" stroke-width="0.35" font-weight="normal" letter-spacing="0.85">−6,376.25</text>
<text x="666.70" y="41.80" font-size="24" fill="#5c6bec" stroke="#5c6bec" stroke-width="0.35" font-weight="normal" letter-spacing="0.83">(−8.28%)</text>
<text x="36.60" y="75.60" font-size="24" fill="#0f0f0f" stroke="#0f0f0f" stroke-width="0.35" font-weight="normal" letter-spacing="0.50">Vol</text>
<text x="77.50" y="75.60" font-size="24" fill="#0f0f0f" stroke="#0f0f0f" stroke-width="0.35" font-weight="normal" letter-spacing="0.00">·</text>
<text x="90.60" y="75.60" font-size="24" fill="#0f0f0f" stroke="#0f0f0f" stroke-width="0.35" font-weight="normal" letter-spacing="0.60">BTC</text>
<text x="151.30" y="75.60" font-size="24" fill="#ef5350" stroke="#ef5350" stroke-width="0.35" font-weight="normal" letter-spacing="0.66">135.31K</text>
<g clip-path="url(#plot)">
<text x="-12.70" y="1475.80" font-size="24" fill="#0f0f0f" stroke="#0f0f0f" stroke-width="0" font-weight="bold" letter-spacing="3.07">2021</text>
<text x="210.50" y="1475.80" font-size="24" fill="#0f0f0f" stroke="#0f0f0f" stroke-width="0.35" font-weight="normal" letter-spacing="1.50">Jul</text>
<text x="402.45" y="1475.80" font-size="24" fill="#0f0f0f" stroke="#0f0f0f" stroke-width="0" font-weight="bold" letter-spacing="3.07">2022</text>
<text x="624.50" y="1475.80" font-size="24" fill="#0f0f0f" stroke="#0f0f0f" stroke-width="0.35" font-weight="normal" letter-spacing="1.50">Jul</text>
<text x="816.45" y="1475.80" font-size="24" fill="#0f0f0f" stroke="#0f0f0f" stroke-width="0" font-weight="bold" letter-spacing="3.06">2023</text>
<text x="1038.50" y="1475.80" font-size="24" fill="#0f0f0f" stroke="#0f0f0f" stroke-width="0.35" font-weight="normal" letter-spacing="1.50">Jul</text>
<text x="1230.45" y="1475.80" font-size="24" fill="#0f0f0f" stroke="#0f0f0f" stroke-width="0" font-weight="bold" letter-spacing="2.73">2024</text>
<text x="1452.50" y="1475.80" font-size="24" fill="#0f0f0f" stroke="#0f0f0f" stroke-width="0.35" font-weight="normal" letter-spacing="1.50">Jul</text>
<text x="1652.45" y="1475.80" font-size="24" fill="#0f0f0f" stroke="#0f0f0f" stroke-width="0" font-weight="bold" letter-spacing="3.06">2025</text>
<text x="1875.50" y="1475.80" font-size="24" fill="#0f0f0f" stroke="#0f0f0f" stroke-width="0.35" font-weight="normal" letter-spacing="1.50">Jul</text>
<text x="2067.45" y="1475.80" font-size="24" fill="#0f0f0f" stroke="#0f0f0f" stroke-width="0" font-weight="bold" letter-spacing="3.06">2026</text>
</g>
<g fill="#0f0f0f"><path d="M23.9 1537.9H47.8V1568.1H36.2V1549.9H23.9Z"/><circle cx="57.8" cy="1543.9" r="6.0"/><path d="M69.8 1537.9H83.7L72.0 1568.1H57.8Z"/></g>
<g fill="#0f0f0f" stroke="none">
<rect x="98.00" y="1538.00" width="21.80" height="5.80"/>
<rect x="106.05" y="1538.00" width="5.70" height="29.80"/>
<rect x="120.00" y="1546.00" width="5.75" height="21.80"/>
<path d="M122.87 1559.5A10.15 10.5 0 0 1 133.0 1548.95" fill="none" stroke="#0f0f0f" stroke-width="5.9"/>
<ellipse cx="144.85" cy="1557.00" rx="8.45" ry="8.70" fill="none" stroke="#0f0f0f" stroke-width="5.40"/>
<rect x="150.00" y="1546.00" width="5.90" height="21.80"/>
<ellipse cx="170.75" cy="1557.00" rx="8.45" ry="8.70" fill="none" stroke="#0f0f0f" stroke-width="5.40"/>
<rect x="176.10" y="1538.00" width="5.75" height="29.80"/>
<rect x="186.00" y="1546.00" width="5.80" height="21.80"/>
<circle cx="188.95" cy="1540.3" r="3.85"/>
<rect x="196.10" y="1546.00" width="5.75" height="21.80"/>
<path d="M198.95 1556A7.0 7.6 0 0 1 212.95 1556V1567.80" fill="none" stroke="#0f0f0f" stroke-width="5.7"/>
<ellipse cx="230.85" cy="1556.80" rx="8.45" ry="8.70" fill="none" stroke="#0f0f0f" stroke-width="5.40"/>
<path d="M239.15 1546.00V1566.2A8.9 8.75 0 0 1 223.0 1571.6" fill="none" stroke="#0f0f0f" stroke-width="5.7"/>
<polygon points="241.15,1538.00 247.8,1538.00 256.9,1558.8 265.3,1538.00 272.0,1538.00 259.9,1567.80 253.9,1567.80"/>
<rect x="274.00" y="1546.00" width="6.00" height="21.80"/>
<circle cx="276.97" cy="1540.3" r="3.9"/>
<path d="M301.63 1562.09A8.60 8.60 0 1 1 303.37 1558.00" fill="none" stroke="#0f0f0f" stroke-width="5.50"/>
<rect x="288.50" y="1554.10" width="17.70" height="4.30"/>
<polygon points="305.85,1546.00 312.4,1546.00 316.0,1559.9 320.0,1546.00 325.8,1546.00 330.2,1559.9 333.6,1546.00 340.0,1546.00 333.05,1567.80 327.2,1567.80 323.1,1555.8 318.9,1567.80 313.2,1567.80"/>
</g>
</svg></body></html>
